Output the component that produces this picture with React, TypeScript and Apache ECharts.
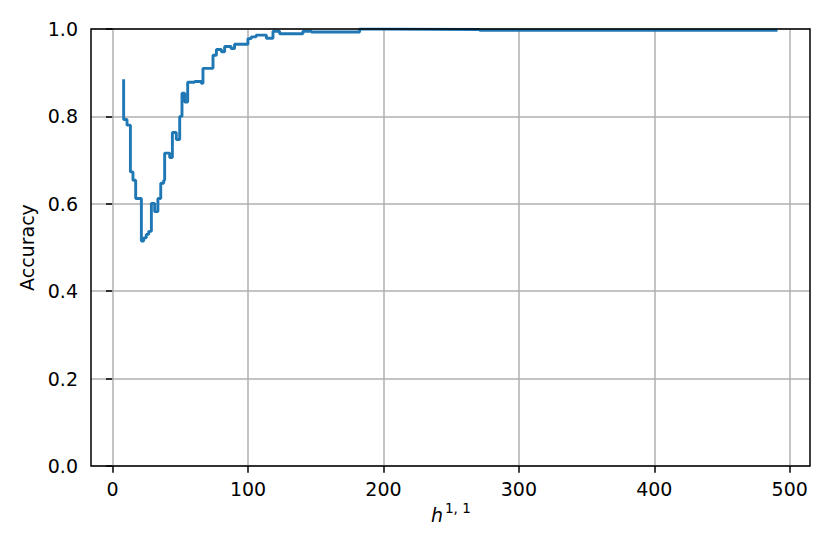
import React, { useEffect, useRef } from 'react';
import * as echarts from 'echarts';

// h^{1,1} breakpoints and accuracy (step function, value holds until next x)
const hValues = [
  8.1, 8.1, 10.6, 13.1, 15.0, 17.0, 21.2, 22.9, 24.8, 26.6, 28.6, 31.0, 33.4, 35.5,
  37.7, 38.4, 42.1, 44.1, 47.0, 49.5, 51.2, 53.2, 55.4, 60.5, 65.5, 66.7, 74.1, 76.6,
  80.3, 82.7, 87.5, 90.0, 99.9, 102.4, 106.0, 113.5, 118.4, 123.3, 140.5, 146.8,
  182.4, 199.4, 271.0, 491.0,
];
const accuracy = [
  0.885, 0.793, 0.78, 0.673, 0.654, 0.612, 0.515, 0.522, 0.53, 0.537, 0.601, 0.582, 0.612, 0.647,
  0.654, 0.716, 0.706, 0.763, 0.747, 0.8, 0.853, 0.833, 0.878, 0.88, 0.876, 0.91, 0.94, 0.953,
  0.948, 0.96, 0.955, 0.965, 0.978, 0.982, 0.986, 0.979, 0.995, 0.989, 0.995, 0.993,
  1.0, 0.999, 0.997, 0.997,
];
const xTickValues = [0, 100, 200, 300, 400, 500];

const FONT = 'DejaVu Sans';

export default function App() {
  const ref = useRef<HTMLDivElement>(null);
  useEffect(() => {
    const chart = echarts.init(ref.current!, null, { renderer: 'svg' });
    const data = hValues.map((x, i) => [x, accuracy[i]]);
    const left = 91, top = 29, right = 810, bottom = 466;
    chart.setOption({
      animation: false,
      backgroundColor: '#fff',
      grid: { left, top, right: 830 - right, bottom: 554 - bottom, containLabel: false },
      xAxis: {
        type: 'value',
        min: -16,
        max: 515,
        axisLine: { show: false },
        axisTick: { show: true, customValues: xTickValues, length: 6.7, lineStyle: { color: '#000', width: 1.5 } },
        axisLabel: { customValues: xTickValues, fontSize: 19, color: '#000', fontFamily: FONT, margin: 13 },
        splitLine: { show: false },
      },
      yAxis: {
        type: 'value',
        min: 0,
        max: 1,
        interval: 0.2,
        name: 'Accuracy',
        nameLocation: 'middle',
        nameGap: 52,
        nameTextStyle: { fontSize: 19, color: '#000', fontFamily: FONT },
        axisLine: { show: false },
        axisTick: { show: true, length: 6.7, lineStyle: { color: '#000', width: 1.5 } },
        axisLabel: { fontSize: 19, color: '#000', fontFamily: FONT, margin: 13, formatter: (v: number) => v.toFixed(1) },
        splitLine: { show: true, lineStyle: { color: '#b0b0b0', width: 1.5 } },
      },
      series: [
        {
          type: 'line',
          data: [],
          z: 1,
          silent: true,
          markLine: {
            silent: true,
            z: 1,
            animation: false,
            symbol: ['none', 'none'],
            label: { show: false },
            lineStyle: { color: '#b0b0b0', width: 1.5, type: 'solid' },
            data: xTickValues.map((v) => ({ xAxis: v })),
          },
        },
        {
          type: 'line',
          data,
          step: 'end',
          z: 3,
          showSymbol: false,
          symbol: 'none',
          lineStyle: { color: '#1f77b4', width: 2.9 },
        },
      ],
      graphic: [
        {
          type: 'rect',
          z: 100,
          silent: true,
          shape: { x: left, y: top, width: right - left, height: bottom - top },
          style: { fill: 'none', stroke: '#000', lineWidth: 1.5 },
        },
        {
          type: 'text',
          z: 100,
          x: 431,
          y: 505,
          style: { text: 'h', font: `italic 19px "${FONT}"`, fill: '#000', textVerticalAlign: 'top' },
        },
        {
          type: 'text',
          z: 100,
          x: 445,
          y: 501,
          style: { text: '1, 1', font: `13.5px "${FONT}"`, fill: '#000', textVerticalAlign: 'top' },
        },
      ],
    });
    return () => chart.dispose();
  }, []);
  return <div ref={ref} style={{ position: 'fixed', left: 0, top: 0, width: 830, height: 554 }} />;
}
